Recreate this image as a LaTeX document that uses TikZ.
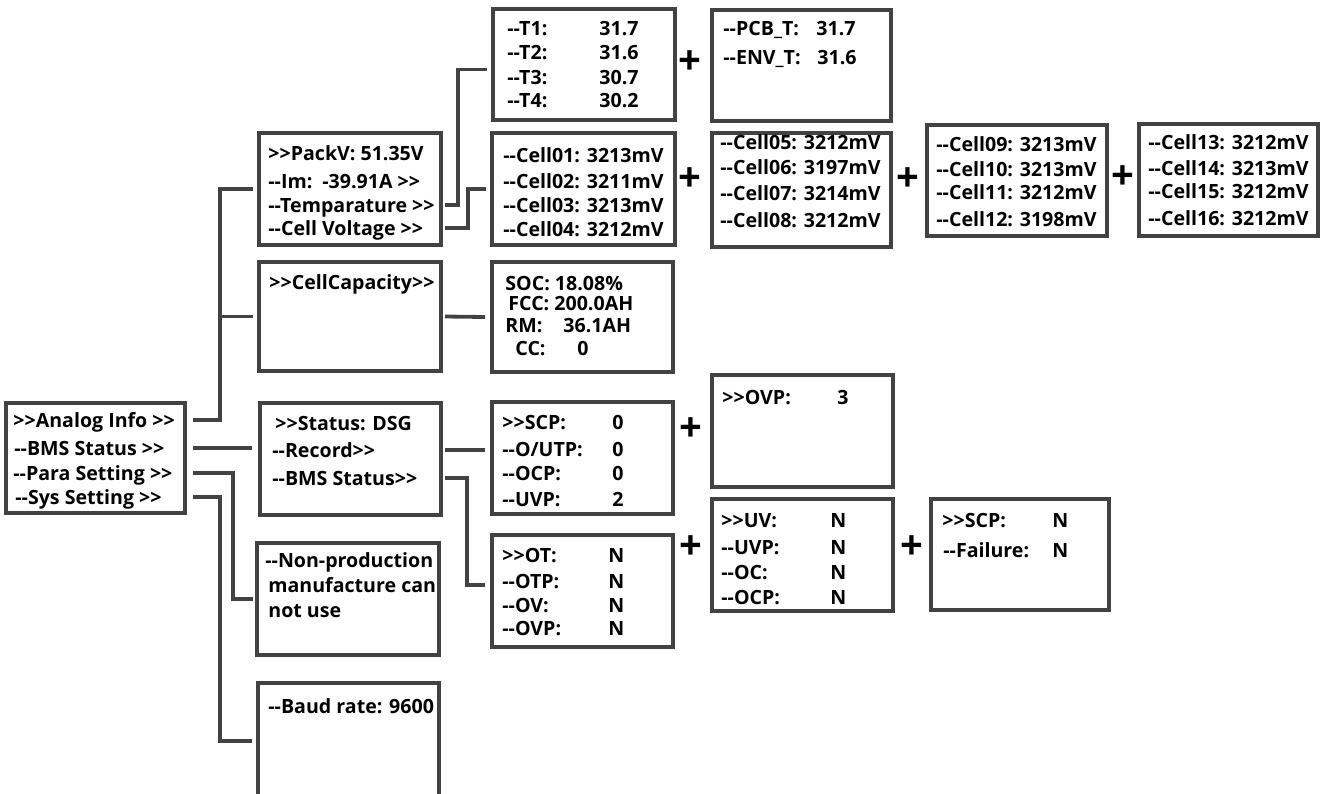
\documentclass[tikz,border=0pt]{standalone}
\usepackage{fontspec}
\newfontfamily\lcdfont{Open Sans}
\usepackage{tikz}
\usetikzlibrary{positioning,calc}
\usepackage{xcolor}
\definecolor{frameGray}{HTML}{424242}

\tikzset{
  panel/.style={draw=frameGray, line width=1.9pt, minimum width=90.5pt, minimum height=56pt,
    anchor=north west, outer sep=0pt, inner sep=0pt},
  row/.style={anchor=west, inner sep=0pt, text height=7pt, text depth=0pt,
    font=\lcdfont\bfseries\fontsize{9.8}{11}\selectfont},
  wire/.style={draw=frameGray, line width=1.9pt},
  plus/.style={inner sep=0pt, font=\lcdfont\bfseries\fontsize{20}{20}\selectfont}
}

\begin{document}
\begin{tikzpicture}[x=0.5pt, y=-0.5pt]
  \useasboundingbox (0,0) rectangle (1320,793);
  \clip (0,0) rectangle (1320,793);

  % main menu
  \node[panel, minimum width=89.5pt, minimum height=55pt] (main) at (6,403) {};
  \node[row] (m1) at (13,420) {>>Analog Info >>};
  \node[row] (m2) at (14,448) {--BMS Status >>};
  \node[row] (m3) at (13,473) {--Para Setting >>};
  \node[row] (m4) at (15,497) {--Sys Setting >>};

  % second level
  \node[panel, minimum width=91pt] (packv) at (259,133) {};
  \node[row] (p1) at (268,153) {>>PackV: 51.35V};
  \node[row] (p2) at (268,181) {--Im:};
  \node[row] (p2v) at (322,181) {-39.91A >>};
  \node[row] (p3) at (268,205) {--Temparature >>};
  \node[row] (p4) at (268,228) {--Cell Voltage >>};

  \node[panel, minimum width=91pt, minimum height=54.5pt] (cap) at (259,262) {};
  \node[row] (c1) at (269,282) {>>CellCapacity>>};

  \node[panel] (status) at (260,403) {};
  \node[row] (s1) at (275,423) {>>Status: DSG};
  \node[row] (s2) at (272,450) {--Record>>};
  \node[row] (s3) at (272,478) {--BMS Status>>};

  \node[panel, minimum width=91pt] (nonprod) at (257,543) {};
  \node[row] (n1) at (265,560) {--Non-production};
  \node[row] (n2) at (268,585) {manufacture can};
  \node[row] (n3) at (268,610) {not use};

  \node[panel, minimum height=58pt] (baud) at (258,683) {};
  \node[row] (b1) at (268,706) {--Baud rate: 9600};

  % third level
  \node[panel, minimum width=91pt, minimum height=55.5pt] (temp) at (493,9) {};
  \foreach \lab/\val/\y [count=\i] in {{--T1:}/31.7/28, {--T2:}/31.6/52, {--T3:}/30.7/77, {--T4:}/30.2/100} {
    \node[row] (temp-l\i) at (507,\y) {\lab};
    \node[row] (temp-v\i) at (599,\y) {\val};
  }

  \node[panel, minimum width=91.5pt] (cellA) at (492,133) {};
  \foreach \n/\v/\y in {01/3213/155, 02/3211/181, 03/3213/205, 04/3212/229}
    \node[row] (cell\n) at (503,\y) {--Cell\n: \v mV};

  \node[panel, minimum height=55pt] (soc) at (492,262) {};
  \node[row] (soc1) at (505,283) {SOC: 18.08\%};
  \node[row] (soc2) at (508,303) {FCC: 200.0AH};
  \node[row] (soc3) at (505,325) {RM:};
  \node[row] (soc3v) at (563,325) {36.1AH};
  \node[row] (soc4) at (515,348) {CC:};
  \node[row] (soc4v) at (577,348) {0};

  \node[panel] (scp) at (492,402) {};
  \foreach \lab/\val/\y [count=\i] in {{>>SCP:}/0/422, {--O/UTP:}/0/449, {--OCP:}/0/473, {--UVP:}/2/499} {
    \node[row] (scp-l\i) at (502,\y) {\lab};
    \node[row] (scp-v\i) at (612,\y) {\val};
  }

  \node[panel] (ot) at (492,535) {};
  \foreach \lab/\val/\y [count=\i] in {{>>OT:}/N/555, {--OTP:}/N/581, {--OV:}/N/605, {--OVP:}/N/628} {
    \node[row] (ot-l\i) at (502,\y) {\lab};
    \node[row] (ot-v\i) at (608,\y) {\val};
  }

  % fourth level
  \node[panel, minimum width=89.5pt, minimum height=55.5pt] (pcb) at (712,10) {};
  \node[row] (pcb1) at (723,28) {--PCB\_T:};
  \node[row] (pcb1v) at (816,28) {31.7};
  \node[row] (pcb2) at (723,57) {--ENV\_T:};
  \node[row] (pcb2v) at (817,57) {31.6};

  \node[panel, minimum width=89.5pt, minimum height=57pt] (cellB) at (712,133) {};
  \foreach \n/\v/\y in {05/3212/142, 06/3197/167, 07/3214/193, 08/3212/220}
    \node[row] (cell\n) at (720,\y) {--Cell\n: \v mV};

  \node[panel] (ovp) at (712,375) {};
  \node[row] (ovp1) at (722,397) {>>OVP:};
  \node[row] (ovp1v) at (837,397) {3};

  \node[panel] (uv) at (712,499) {};
  \foreach \lab/\val/\y [count=\i] in {{>>UV:}/N/520, {--UVP:}/N/547, {--OC:}/N/572, {--OCP:}/N/597} {
    \node[row] (uv-l\i) at (721,\y) {\lab};
    \node[row] (uv-v\i) at (830,\y) {\val};
  }

  % fifth level
  \node[panel, minimum width=90pt, minimum height=55.5pt] (cellC) at (927,125) {};
  \foreach \n/\v/\y in {09/3213/144, 10/3213/169, 11/3212/192, 12/3198/219}
    \node[row] (cell\n) at (936,\y) {--Cell\n: \v mV};

  \node[panel, minimum width=89.5pt] (cellD) at (1139,124) {};
  \foreach \n/\v/\y in {13/3212/142, 14/3213/168, 15/3212/191, 16/3212/218}
    \node[row] (cell\n) at (1148,\y) {--Cell\n: \v mV};

  \node[panel, minimum width=89pt, minimum height=55.5pt] (fail) at (931,499) {};
  \node[row] (fail1) at (942,520) {>>SCP:};
  \node[row] (fail1v) at (1052,520) {N};
  \node[row] (fail2) at (943,550) {--Failure:};
  \node[row] (fail2v) at (1052,550) {N};

  % continuation marks
  \node[plus] (plus1) at (690,63) {+};
  \node[plus] (plus2) at (690,180) {+};
  \node[plus] (plus3) at (908,180) {+};
  \node[plus] (plus4) at (1123,178) {+};
  \node[plus] (plus5) at (691,430) {+};
  \node[plus] (plus6) at (691,548) {+};
  \node[plus] (plus7) at (912,548) {+};

  % connectors
  \draw[wire] ($(main.east |- m1)+(8,0)$) -- ++(27,0) |- ($(packv.west)+(-6,0)$);
  \draw[wire] ($(main.east |- m1)+(35,0)$) |- ($(cap.west)+(-6,0)$);
  \draw[wire] ($(main.east |- m2)+(8,0)$) -- ($(status.west |- m2)+(-8,0)$);
  \draw[wire] ($(main.east |- m3)+(8,0)$) -- ++(40,0) |- ($(nonprod.west)+(-4,0)$);
  \draw[wire] ($(main.east |- m4)+(8,0)$) -- ++(27,0) |- ($(baud.west)+(-6,0)$);
  \draw[wire] ($(packv.east |- p3)+(4,0)$) -- ++(13,0) |- ($(temp.west)+(-6,5)$);
  \draw[wire] ($(packv.east |- p4)+(4,0)$) -- ++(23,0) |- ($(cellA.west)+(-6,0)$);
  \draw[wire] ($(cap.east)+(4,0)$) -- ($(soc.west)+(-7,0)$);
  \draw[wire] ($(status.east |- s2)+(4,0)$) -- ($(scp.west |- s2)+(-7,0)$);
  \draw[wire] ($(status.east |- s3)+(4,0)$) -- ++(22,0) |- ($(ot.west)+(-7,-6)$);
\end{tikzpicture}
\end{document}
